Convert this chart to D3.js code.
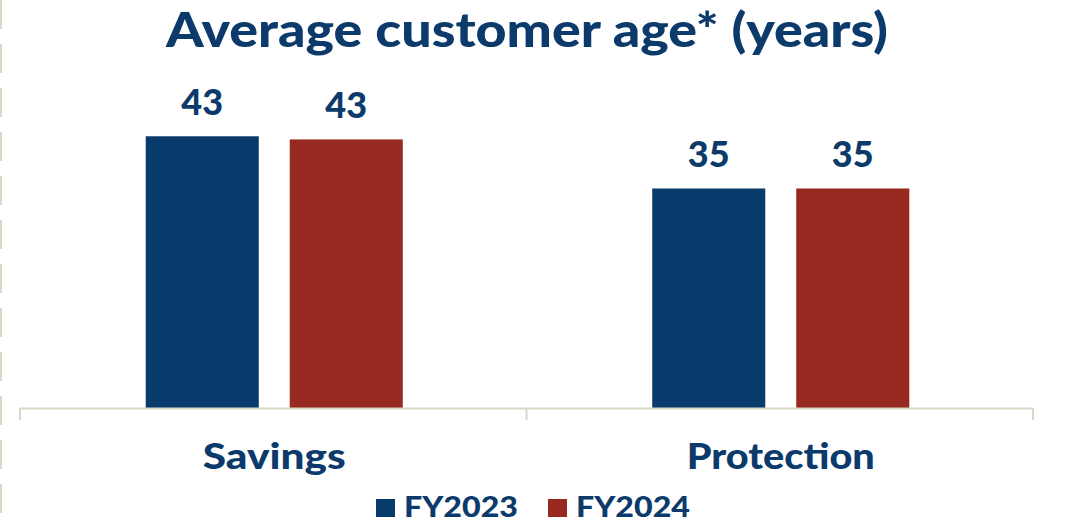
<!DOCTYPE html>
<html>
<head>
<meta charset="utf-8">
<script src="https://cdn.jsdelivr.net/npm/d3@7"></script>
<style>
  html, body { margin: 0; padding: 0; background: #ffffff; }
  svg { display: block; }
  text { font-family: Lato, "Open Sans", sans-serif; font-weight: 900; fill: #0b3a6b; }
</style>
</head>
<body>
<svg id="chart" width="1068" height="523"></svg>
<script>
// Chart data
const categories = ["Savings", "Protection"];
const seriesNames = ["FY2023", "FY2024"];
const fy2023 = [43.2, 34.9];
const fy2024 = [42.7, 34.9];
const seriesColors = ["#083a6b", "#972920"];
const titleText = "Average customer age* (years)";

const W = 1068, H = 523;
const svg = d3.select("#chart");
const axisColor = "#d9d7c6";

const rows = categories.map((c, i) => ({
  category: c,
  values: [
    { series: seriesNames[0], value: fy2023[i] },
    { series: seriesNames[1], value: fy2024[i] }
  ]
}));

// Scales
const x0 = d3.scaleBand().domain(categories).range([20, 1033]).padding(0);
const x1 = d3.scaleBand().domain(seriesNames)
  .range([0, x0.bandwidth()])
  .paddingInner(0.215)
  .paddingOuter(0.866);
const y = d3.scaleLinear().domain([0, 50]).range([408, 93.5]);
const color = d3.scaleOrdinal().domain(seriesNames).range(seriesColors);
const fmt = d3.format(".0f");

// Dashed rule on the left edge
svg.append("line")
  .attr("x1", 1).attr("x2", 1).attr("y1", 0).attr("y2", H)
  .attr("stroke", axisColor).attr("stroke-width", 2)
  .attr("stroke-dasharray", "29 15");

// Title
svg.append("text")
  .attr("x", 527).attr("y", 47)
  .attr("text-anchor", "middle")
  .attr("font-size", 47)
  .attr("textLength", 722).attr("lengthAdjust", "spacingAndGlyphs")
  .text(titleText);

// Bars
const groups = svg.append("g").selectAll("g")
  .data(rows).join("g")
  .attr("transform", d => `translate(${x0(d.category) + 1},0)`);

groups.selectAll("rect")
  .data(d => d.values).join("rect")
  .attr("x", d => x1(d.series))
  .attr("y", d => y(d.value))
  .attr("width", x1.bandwidth())
  .attr("height", d => y(0) - y(d.value))
  .attr("fill", d => color(d.series));

groups.selectAll("text.val")
  .data(d => d.values).join("text")
  .attr("class", "val")
  .attr("x", d => x1(d.series) + x1.bandwidth() / 2)
  .attr("y", d => y(d.value) - 21)
  .attr("text-anchor", "middle")
  .attr("font-size", 36)
  .text(d => fmt(d.value));

// Category axis
const xAxis = svg.append("g")
  .attr("transform", `translate(0,${y(0)})`)
  .call(d3.axisBottom(x0).tickSize(0).tickFormat(""));
xAxis.select(".domain").remove();
xAxis.append("line")
  .attr("x1", 20).attr("x2", 1033).attr("y1", 0.5).attr("y2", 0.5)
  .attr("stroke", axisColor).attr("stroke-width", 2);
const tickXs = [x0.range()[0]].concat(categories.map(c => x0(c) + x0.bandwidth()));
xAxis.selectAll("line.tk")
  .data(tickXs).join("line")
  .attr("class", "tk")
  .attr("x1", d => d).attr("x2", d => d)
  .attr("y1", 0).attr("y2", 12)
  .attr("stroke", axisColor).attr("stroke-width", 2);

const catWidths = { "Savings": 143, "Protection": 188 };
svg.append("g").selectAll("text")
  .data(categories).join("text")
  .attr("x", d => x0(d) + x0.bandwidth() / 2 + 1)
  .attr("y", 469)
  .attr("text-anchor", "middle")
  .attr("font-size", 36)
  .attr("textLength", d => catWidths[d]).attr("lengthAdjust", "spacingAndGlyphs")
  .text(d => d);

// Legend
const legendX = [376, 548];
const legend = svg.append("g").selectAll("g")
  .data(seriesNames).join("g")
  .attr("transform", (d, i) => `translate(${legendX[i]},0)`);
legend.append("rect")
  .attr("x", 0).attr("y", 499).attr("width", 19).attr("height", 18)
  .attr("fill", d => color(d));
legend.append("text")
  .attr("x", 28).attr("y", 517)
  .attr("font-size", 28)
  .attr("textLength", 114).attr("lengthAdjust", "spacingAndGlyphs")
  .text(d => d);
</script>
</body>
</html>
